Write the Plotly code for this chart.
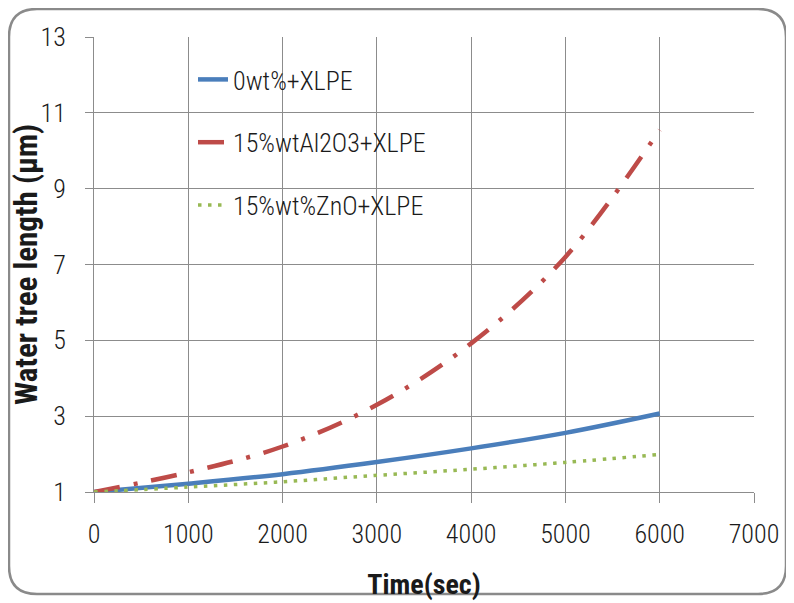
import plotly.graph_objects as go

time_sec = [0, 1000, 2000, 3000, 4000, 5000, 6000]
xlpe_0 = [1.0, 1.22, 1.47, 1.79, 2.15, 2.56, 3.07]
al2o3_15 = [1.0, 1.52, 2.2, 3.3, 4.92, 7.2, 10.55]
zno_15 = [1.0, 1.13, 1.27, 1.44, 1.6, 1.78, 1.99]

names = ["0wt%+XLPE", "15%wtAl2O3+XLPE", "15%wt%ZnO+XLPE"]
colors = ["#4A7EBB", "#BE4B48", "#98B954"]

FONT = "Roboto Condensed, Liberation Sans Narrow, Arial Narrow, sans-serif"

fig = go.Figure()
fig.add_trace(go.Scatter(x=time_sec, y=xlpe_0, name=names[0], mode="lines",
                         line=dict(color=colors[0], width=4.5, shape="spline"),
                         legendgroup="a"))
fig.add_trace(go.Scatter(x=time_sec, y=al2o3_15, name=names[1], mode="lines",
                         line=dict(color=colors[1], width=4.5, shape="spline",
                                   dash="26px,14px,4px,14px"),
                         legendgroup="b"))
fig.add_trace(go.Scatter(x=time_sec, y=zno_15, name=names[2], mode="lines",
                         line=dict(color=colors[2], width=3.5, shape="spline",
                                   dash="3.5px,6.5px"),
                         legendgroup="c"))

# page has an 8px body margin; figure origin sits at (8, 8)
OFF = 8
W, H = 794 - OFF, 603 - OFF
L = 94 - OFF
T = 37 - OFF
R = W - (754 - OFF)
B = H - (492 - OFF)
pw, ph = W - L - R, H - T - B


def px(xp):
    return (xp - OFF - L) / pw


def py(yp):
    return (H - B - (yp - OFF)) / ph


x0, x1, y0, y1, r = 9, 786, 9, 594, 28
path = (f"M {px(x0+r)},{py(y0)} L {px(x1-r)},{py(y0)} Q {px(x1)},{py(y0)} {px(x1)},{py(y0+r)} "
        f"L {px(x1)},{py(y1-r)} Q {px(x1)},{py(y1)} {px(x1-r)},{py(y1)} "
        f"L {px(x0+r)},{py(y1)} Q {px(x0)},{py(y1)} {px(x0)},{py(y1-r)} "
        f"L {px(x0)},{py(y0+r)} Q {px(x0)},{py(y0)} {px(x0+r)},{py(y0)} Z")

fig.update_layout(
    width=W, height=H,
    margin=dict(l=L, r=R, t=T, b=B, autoexpand=False),
    paper_bgcolor="white", plot_bgcolor="white",
    font=dict(family=FONT, size=26, color="#1a1a1a", weight=300),
    showlegend=True,
    legend=dict(x=px(193), y=py(56), xanchor="left", yanchor="top",
                bgcolor="rgba(0,0,0,0)", font=dict(size=26, family=FONT, weight=300),
                tracegroupgap=26),
    shapes=[dict(type="path", path=path, xref="paper", yref="paper",
                 line=dict(color="#8a8a8a", width=2.5), fillcolor="rgba(0,0,0,0)",
                 layer="below")],
)

fig.update_xaxes(range=[0, 7000], tickvals=list(range(0, 7001, 1000)),
                 showgrid=True, gridcolor="#8c8c8c", gridwidth=1,
                 showline=True, linecolor="#8c8c8c", linewidth=1,
                 ticks="outside", ticklen=10, tickcolor="#8c8c8c",
                 ticklabelstandoff=9, zeroline=False, automargin=False,
                 title=dict(text="<b>Time(sec)</b>", font=dict(size=28, family=FONT, weight=700), standoff=26))
fig.update_yaxes(range=[1, 13], tickvals=[1, 3, 5, 7, 9, 11, 13],
                 showgrid=True, gridcolor="#8c8c8c", gridwidth=1,
                 showline=True, linecolor="#8c8c8c", linewidth=1,
                 ticks="outside", ticklen=8, tickcolor="#8c8c8c",
                 ticklabelstandoff=14, zeroline=False, automargin=False,
                 title=dict(text="<b>Water tree length (μm)</b>", font=dict(size=31, family=FONT, weight=700), standoff=3))

fig.write_html("out.html")
